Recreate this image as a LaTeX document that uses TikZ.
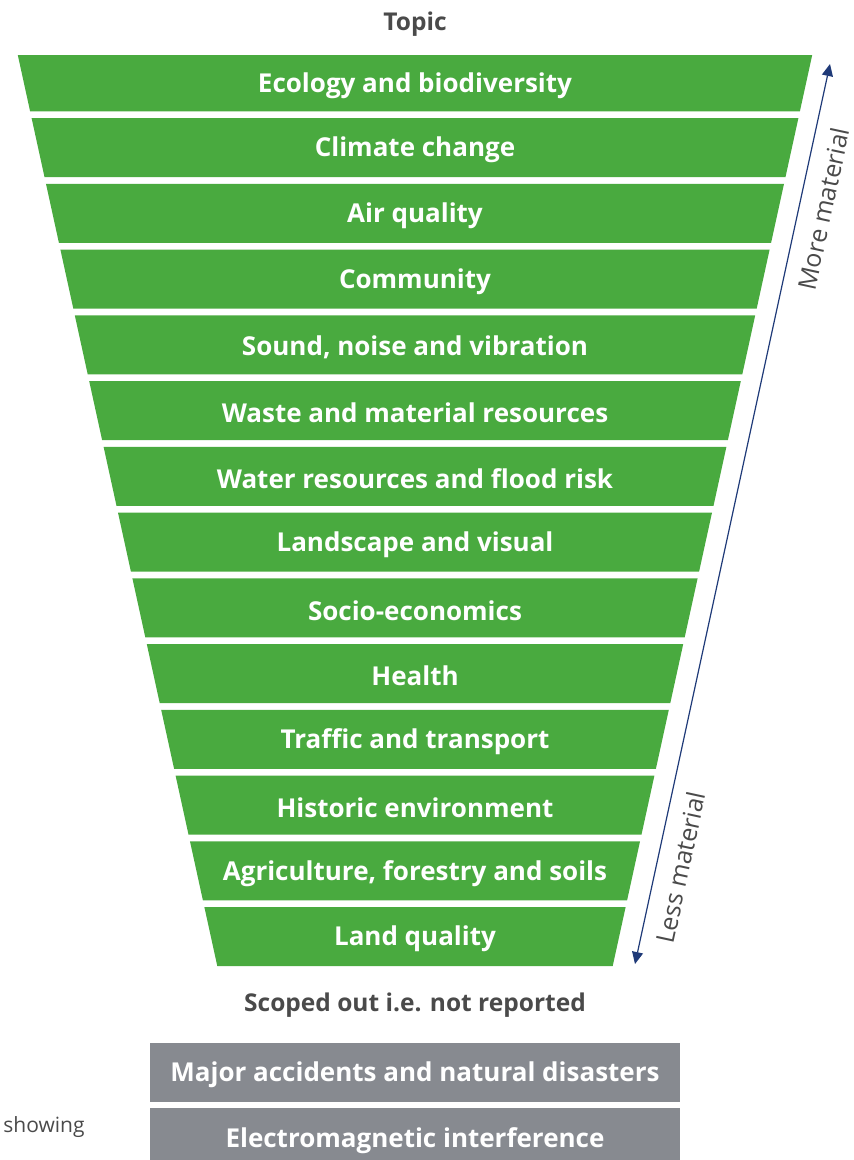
\documentclass[tikz,border=0pt]{standalone}
\usepackage{fontspec}
\setmainfont{Open Sans}
\usetikzlibrary{arrows.meta}

\definecolor{bandgreen}{HTML}{49AA3F}
\definecolor{boxgrey}{HTML}{878A90}
\definecolor{textgrey}{HTML}{4A4A4A}
\definecolor{arrownavy}{HTML}{1F3A78}

\tikzset{
  band/.style={fill=bandgreen},
  bandtext/.style={text=white,yshift=-2.5pt,font=\bfseries\fontsize{26}{30}\selectfont},
  headtext/.style={text=textgrey,yshift=-2pt,font=\bfseries\fontsize{24.5}{28}\selectfont},
  sidetext/.style={text=textgrey,font=\fontsize{25}{28}\selectfont},
  outbox/.style={fill=boxgrey,text=white,minimum width=530pt,inner sep=0pt,
    text height=22pt,text depth=4pt,font=\bfseries\fontsize{26}{30}\selectfont},
  matarrow/.style={draw=arrownavy,line width=1.2pt,{Triangle[length=12pt,width=11pt]}-{Triangle[length=12pt,width=11pt]}}
}

\begin{document}
\begin{tikzpicture}[x=1pt,y=-1pt]
\useasboundingbox (0,0) rectangle (854,1160);

\node[headtext] (topic) at (415,22) {Topic};

% funnel of topics
\foreach \name [count=\i] in {Ecology and biodiversity, Climate change, Air quality,
  Community, {Sound, noise and vibration}, Waste and material resources,
  Water resources and flood risk, Landscape and visual, Socio-economics, Health,
  Traffic and transport, Historic environment, {Agriculture, forestry and soils},
  Land quality}
{
  \pgfmathsetmacro\yt{\i==1 ? 55 : 118+65.75*(\i-2)}
  \pgfmathsetmacro\yb{118+65.75*(\i-2)+59}
  \pgfmathsetmacro\wt{397-0.219*(\yt-56)}
  \pgfmathsetmacro\wb{397-0.219*(\yb-56)}
  \fill[band] (415-\wt,\yt) -- (415+\wt,\yt) -- (415+\wb,\yb) -- (415-\wb,\yb) -- cycle;
  \node[bandtext] (band\i) at (415,{(\yt+\yb)/2}) {\name};
}

% materiality arrow
\coordinate (lo) at (635,964);
\coordinate (hi) at (830,64);
\draw[matarrow] (lo) -- (hi);
\path (lo) -- (hi)
  node[sidetext,pos=0.845,sloped,below=11pt] (more) {More material}
  node[sidetext,pos=0.113,sloped,below=11pt] (less) {Less material};

\node[headtext] (scoped) at (415,1003) {Scoped out i.e. not reported};

\node[outbox,minimum height=59pt] (major) at (415,1072.5) {Major accidents and natural disasters};
\node[outbox,minimum height=60pt] (emi) at (415,1138) {Electromagnetic interference};
\node[sidetext,font=\fontsize{21}{26}\selectfont] (showing) at (44,1127) {showing};
\end{tikzpicture}
\end{document}
